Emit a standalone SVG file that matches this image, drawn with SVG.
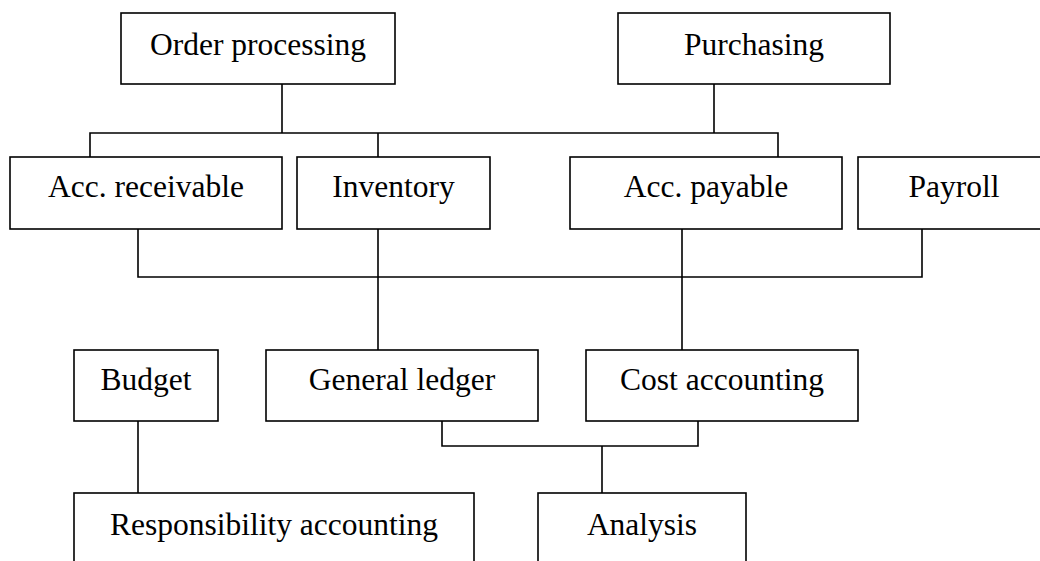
<svg xmlns="http://www.w3.org/2000/svg" width="1040" height="561" viewBox="0 0 1040 561">
<style>
.box{fill:#fff;stroke:#000;stroke-width:1.6}
.lbl{font-family:"Liberation Serif","Times New Roman",serif;font-size:31.5px;fill:#000;text-anchor:middle}
.con{fill:none;stroke:#000;stroke-width:1.6}
</style>
<rect width="1040" height="561" fill="#fff"/>
<g id="connectors" class="con">
<path d="M282 84V133M714 84V133M90 157V133H778V157M378 133V157"/>
<path d="M138 229V277H922V229M378 229V350M682 229V350"/>
<path d="M442 421V446H698V421M602 446V493"/>
<path d="M138 421V493"/>
</g>
<g id="order-processing"><rect class="box" x="121" y="13" width="274" height="71"/><text class="lbl" x="258" y="55">Order processing</text></g>
<g id="purchasing"><rect class="box" x="618" y="13" width="272" height="71"/><text class="lbl" x="754" y="55">Purchasing</text></g>
<g id="acc-receivable"><rect class="box" x="10" y="157" width="272" height="72"/><text class="lbl" x="146" y="197">Acc. receivable</text></g>
<g id="inventory"><rect class="box" x="297" y="157" width="193" height="72"/><text class="lbl" x="393.5" y="197">Inventory</text></g>
<g id="acc-payable"><rect class="box" x="570" y="157" width="272" height="72"/><text class="lbl" x="706" y="197">Acc. payable</text></g>
<g id="payroll"><rect class="box" x="858" y="157" width="200" height="72"/><text class="lbl" x="954" y="197">Payroll</text></g>
<g id="budget"><rect class="box" x="74" y="350" width="144" height="71"/><text class="lbl" x="146" y="390">Budget</text></g>
<g id="general-ledger"><rect class="box" x="266" y="350" width="272" height="71"/><text class="lbl" x="402" y="390">General ledger</text></g>
<g id="cost-accounting"><rect class="box" x="586" y="350" width="272" height="71"/><text class="lbl" x="722" y="390">Cost accounting</text></g>
<g id="responsibility-accounting"><rect class="box" x="74" y="493" width="400" height="90"/><text class="lbl" x="274" y="535">Responsibility accounting</text></g>
<g id="analysis"><rect class="box" x="538" y="493" width="208" height="90"/><text class="lbl" x="642" y="535">Analysis</text></g>
</svg>
